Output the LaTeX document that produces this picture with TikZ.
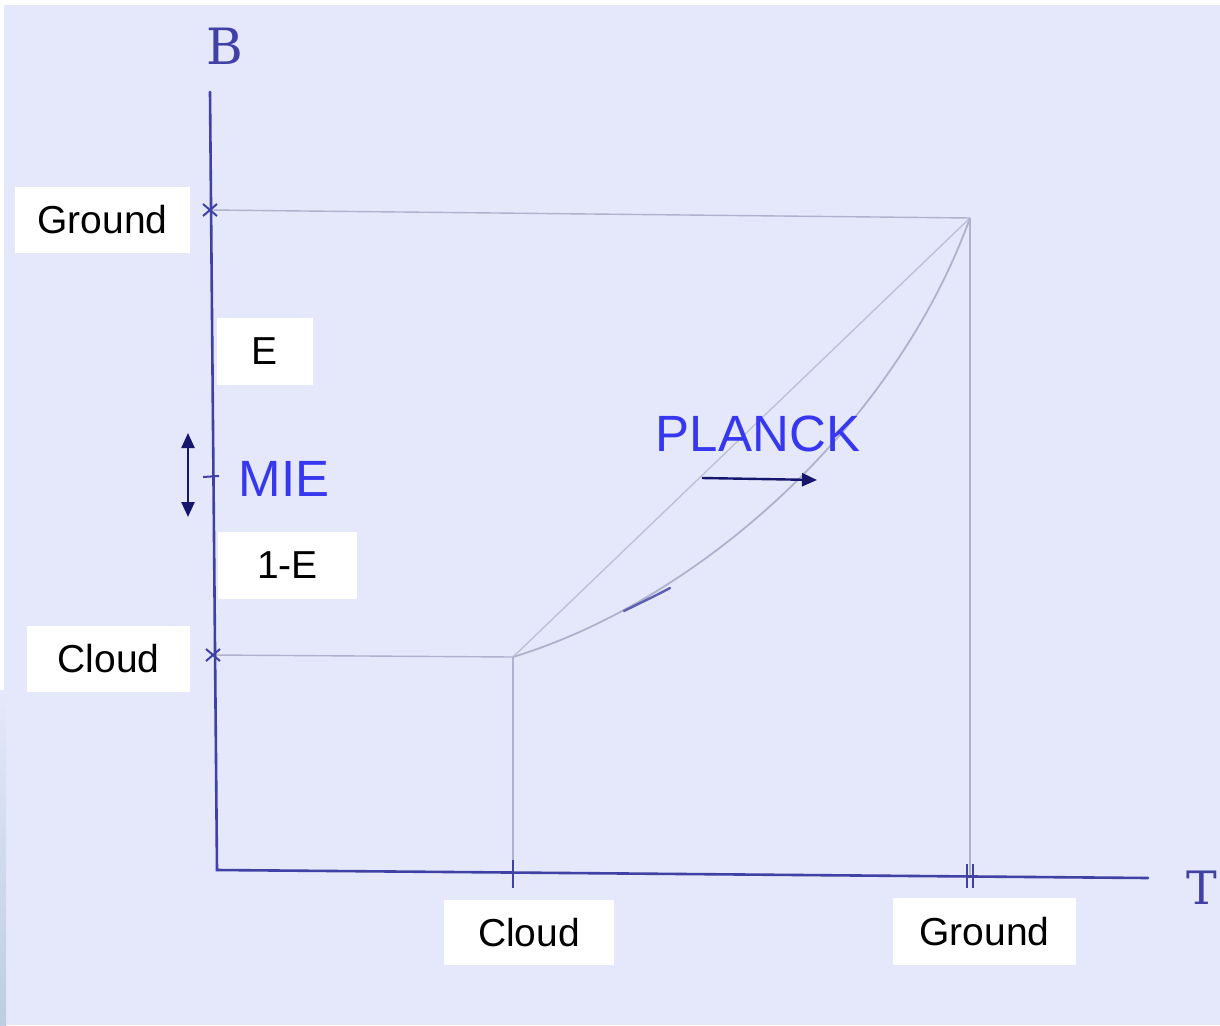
\documentclass[tikz,border=0pt]{standalone}
\usepackage{fontspec}
\setmainfont{Liberation Sans}
\newfontfamily\handfont{DejaVu Serif}
\usetikzlibrary{arrows.meta,calc}
\definecolor{paper}{RGB}{228,232,250}
\definecolor{ink}{RGB}{65,65,165}
\definecolor{pencil}{RGB}{175,178,205}
\definecolor{labelblue}{RGB}{55,55,240}
\definecolor{navy}{RGB}{22,22,110}
\tikzset{
  axisline/.style={draw=ink, line width=2.6pt, line cap=round},
  guide/.style={draw=pencil, line width=1.4pt},
  whitebox/.style={fill=white, inner sep=0pt, font=\fontsize{39}{44}\selectfont, text=black},
  bluetext/.style={text=labelblue, inner sep=0pt, font=\fontsize{51}{56}\selectfont},
  navyarrow/.style={draw=navy, line width=2.4pt, -{Triangle[length=15pt,width=13pt]}},
  tickmark/.style={draw=ink, line width=2pt}
}
\begin{document}
\begin{tikzpicture}[x=1pt,y=-1pt]
  % page and paper
  \useasboundingbox (0,0) rectangle (1220,1025);
  \fill[white] (0,0) rectangle (1220,1025);
  \fill[paper] (4,5) rectangle (1220,1025);
  \shade[top color=paper, bottom color={rgb,255:red,190;green,205;blue,225}] (0,690) rectangle (6,1025);

  % key points of the graph
  \coordinate (origin) at (217,870);
  \coordinate (ytop) at (210,92);
  \coordinate (xend) at (1148,878);
  \coordinate (yground) at (210,210);
  \coordinate (ycloud) at (213,655);
  \coordinate (ymie) at (211,476);
  \coordinate (groundpt) at (970,218);
  \coordinate (cloudpt) at (513,657);
  \coordinate (xcloud) at (513,870);
  \coordinate (xground) at (970,876);

  % guide lines
  \draw[guide] (yground) -- (groundpt);
  \draw[guide] (groundpt) -- (xground);
  \draw[guide] (ycloud) -- (cloudpt);
  \draw[guide] (cloudpt) -- (xcloud);
  \draw[guide, draw=pencil!80] (cloudpt) -- (groundpt);
  \draw[guide, line width=1.8pt] (cloudpt) .. controls (700,600) and (895,425) .. (groundpt);
  \draw[draw=ink!85, line width=2.4pt, line cap=round] (624,611) .. controls (640,603) and (655,596) .. (670,588);

  % axes
  \draw[axisline] (ytop) -- (origin) -- (xend);

  % tick marks
  \draw[tickmark] ($(yground)+(-7,-6)$) -- ($(yground)+(7,6)$);
  \draw[tickmark] ($(yground)+(-7,6)$) -- ($(yground)+(7,-6)$);
  \draw[tickmark] ($(ycloud)+(-7,-6)$) -- ($(ycloud)+(7,6)$);
  \draw[tickmark] ($(ycloud)+(-7,6)$) -- ($(ycloud)+(7,-6)$);
  \draw[tickmark] ($(ymie)+(-8,1)$) -- ($(ymie)+(8,0)$);
  \draw[tickmark] ($(xcloud)+(0,-10)$) -- ($(xcloud)+(0,18)$);
  \draw[tickmark] ($(xground)+(-3,-12)$) -- ($(xground)+(-3,12)$);
  \draw[tickmark] ($(xground)+(3,-12)$) -- ($(xground)+(3,12)$);

  % axis letters
  \node[text=ink, inner sep=0pt, font=\handfont\fontsize{50}{56}\selectfont] (blabel) at (225,46) {B};
  \node[text=ink, inner sep=0pt, font=\handfont\fontsize{46}{50}\selectfont] (tlabel) at (1202,888) {T};

  % white label boxes
  \node[whitebox, minimum width=175pt, minimum height=66pt] (gtop) at (102.5,220) {Ground};
  \node[whitebox, minimum width=96pt, minimum height=67pt] (elabel) at (265,351.5) {E};
  \node[whitebox, minimum width=139pt, minimum height=67pt] (oneminuse) at (287.5,565.5) {1-E};
  \node[whitebox, minimum width=163pt, minimum height=66pt] (cleft) at (108.5,659) {Cloud};
  \node[whitebox, minimum width=170pt, minimum height=65pt] (cbottom) at (529,932.5) {Cloud};
  \node[whitebox, minimum width=183pt, minimum height=67pt] (gbottom) at (984.5,931.5) {Ground};

  % blue labels
  \node[bluetext] (mie) at (284,479) {MIE};
  \node[bluetext] (planck) at (758,434) {PLANCK};

  % arrows
  \coordinate (mietop) at (188,433);
  \coordinate (miebot) at (188,517);
  \draw[navyarrow, {Triangle[length=15pt,width=13pt]}-{Triangle[length=15pt,width=13pt]}] (mietop) -- (miebot);
  \coordinate (pstart) at (702,478);
  \coordinate (pend) at (817,480);
  \draw[navyarrow] (pstart) -- (pend);
\end{tikzpicture}
\end{document}
